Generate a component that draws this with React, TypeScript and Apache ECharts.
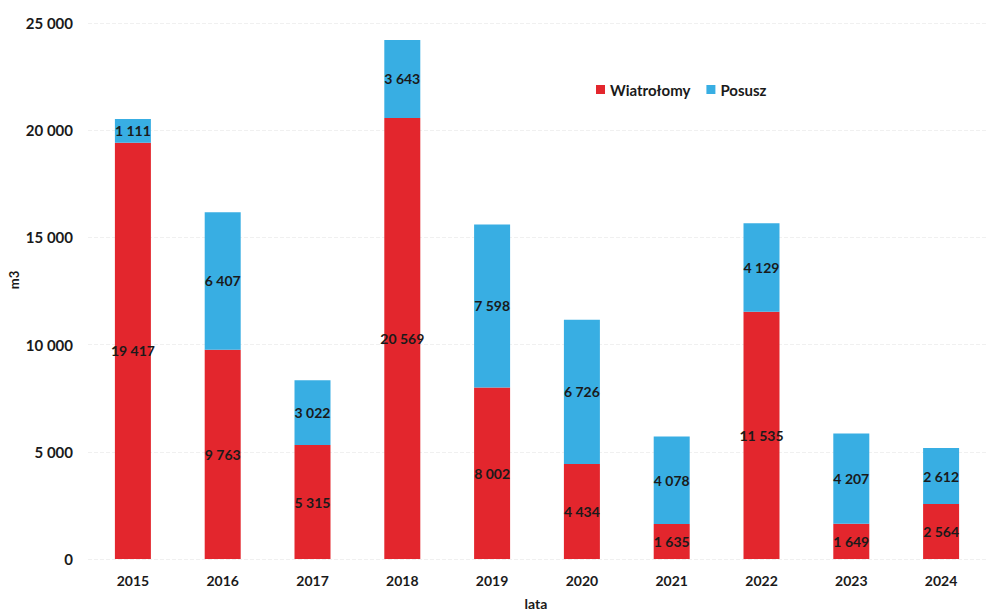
import React, { useEffect, useRef } from "react";
import * as echarts from "echarts";

const years = ["2015", "2016", "2017", "2018", "2019", "2020", "2021", "2022", "2023", "2024"];
const wiatrolomy = [19417, 9763, 5315, 20569, 8002, 4434, 1635, 11535, 1649, 2564];
const posusz = [1111, 6407, 3022, 3643, 7598, 6726, 4078, 4129, 4207, 2612];

const fmt = (v: number) => String(Math.round(v)).replace(/\B(?=(\d{3})+(?!\d))/g, " ");
const FONT = "Lato, 'Open Sans', sans-serif";

export default function App() {
  const ref = useRef<HTMLDivElement>(null);
  useEffect(() => {
    if (!ref.current) return;
    const chart = echarts.init(ref.current, null, { renderer: "svg" });
    const label = {
      show: true,
      position: "inside",
      color: "#1a1a1a",
      fontWeight: "bold",
      fontSize: 14,
      fontFamily: FONT,
      formatter: (p: any) => fmt(p.value),
    };
    chart.setOption({
      animation: false,
      backgroundColor: "#ffffff",
      textStyle: { fontFamily: FONT },
      grid: { left: 88, right: 2, top: 23, bottom: 52, containLabel: false, outerBoundsMode: "none" },
      legend: {
        left: 591,
        top: 77,
        itemWidth: 9,
        itemHeight: 9,
        itemGap: 16,
        icon: "rect",
        textStyle: { color: "#1a1a1a", fontWeight: "bold", fontSize: 15, fontFamily: FONT },
        data: ["Wiatrołomy", "Posusz"],
      },
      xAxis: {
        type: "category",
        data: years,
        axisLine: { show: false },
        axisTick: { show: false },
        axisLabel: { color: "#1a1a1a", fontWeight: "bold", fontSize: 14, margin: 14, fontFamily: FONT },
      },
      yAxis: {
        type: "value",
        min: 0,
        max: 25000,
        interval: 5000,
        axisLine: { show: false },
        axisTick: { show: false },
        axisLabel: {
          color: "#1a1a1a",
          fontWeight: "bold",
          fontSize: 15,
          margin: 15,
          fontFamily: FONT,
          formatter: (v: number) => fmt(v),
        },
        splitLine: { lineStyle: { color: "#f0f0f0", type: "dashed", width: 1 } },
      },
      graphic: [
        {
          type: "text",
          x: 14,
          y: 280,
          rotation: Math.PI / 2,
          style: {
            text: "m3",
            fill: "#1a1a1a",
            font: `bold 13px ${FONT}`,
            align: "center",
            verticalAlign: "middle",
          },
        },
        {
          type: "text",
          x: 536,
          y: 603,
          style: {
            text: "lata",
            fill: "#1a1a1a",
            font: `bold 14px ${FONT}`,
            align: "center",
            verticalAlign: "middle",
          },
        },
      ],
      series: [
        {
          name: "Wiatrołomy",
          type: "bar",
          stack: "total",
          barWidth: 36,
          itemStyle: { color: "#e3262d" },
          label,
          data: wiatrolomy,
        },
        {
          name: "Posusz",
          type: "bar",
          stack: "total",
          barWidth: 36,
          itemStyle: { color: "#38aee3" },
          label,
          data: posusz,
        },
      ],
    });
    return () => chart.dispose();
  }, []);
  return <div ref={ref} style={{ width: 988, height: 611, position: "absolute", left: 0, top: 0 }} />;
}
